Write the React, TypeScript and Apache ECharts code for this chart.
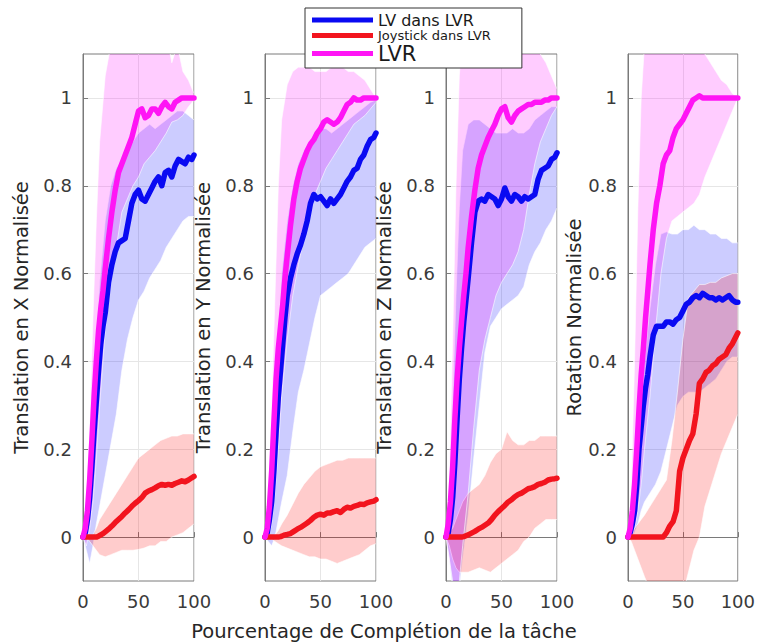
import React, { useEffect, useRef } from 'react';
import * as echarts from 'echarts';

// ---------- axes / labels ----------
const X_LINE = [0, 2, 4, 6, 8, 10, 12, 14, 16, 18, 20, 23, 26, 29, 32, 35, 38, 41, 44, 47, 50, 53, 56, 59, 62, 65, 68, 71, 74, 77, 80, 83, 86, 89, 92, 95, 98, 100];
const X_BAND = [0, 3, 6, 9, 12, 15, 20, 25, 30, 35, 40, 45, 50, 55, 60, 65, 70, 75, 80, 85, 90, 95, 100];
const Y_TICKS = [0, 0.2, 0.4, 0.6, 0.8, 1];
const X_TICK_INTERVAL = 50;
const SERIES_NAMES = ['LV dans LVR', 'Joystick dans LVR', 'LVR'];
const PANEL_TITLES = ['Translation en X Normalisée', 'Translation en Y Normalisée', 'Translation en Z Normalisée', 'Rotation Normalisée'];
const X_TITLE = 'Pourcentage de Complétion de la tâche';

// ---------- panel 1 : X ----------
const P1_LV = [0, 0.01, 0.04, 0.09, 0.16, 0.24, 0.31, 0.38, 0.44, 0.48, 0.51, 0.58, 0.62, 0.65, 0.67, 0.675, 0.68, 0.72, 0.76, 0.78, 0.79, 0.77, 0.765, 0.78, 0.795, 0.81, 0.82, 0.80, 0.83, 0.835, 0.82, 0.845, 0.86, 0.855, 0.85, 0.865, 0.86, 0.87];
const P1_JOY = [0, 0, 0, 0, 0, 0, 0, 0.002, 0.005, 0.008, 0.012, 0.018, 0.025, 0.033, 0.04, 0.047, 0.055, 0.062, 0.07, 0.077, 0.083, 0.09, 0.1, 0.105, 0.108, 0.112, 0.117, 0.12, 0.118, 0.12, 0.118, 0.122, 0.125, 0.128, 0.126, 0.13, 0.135, 0.138];
const P1_LVR = [0, 0.02, 0.06, 0.13, 0.22, 0.32, 0.40, 0.47, 0.52, 0.56, 0.61, 0.68, 0.74, 0.79, 0.83, 0.85, 0.87, 0.89, 0.91, 0.94, 0.97, 0.975, 0.955, 0.96, 0.975, 0.975, 0.965, 0.98, 0.99, 0.98, 0.975, 0.99, 0.995, 1.0, 1.0, 1.0, 1.0, 1.0];
const P1_LV_HI = [0, 0.05, 0.15, 0.3, 0.45, 0.58, 0.72, 0.8, 0.84, 0.86, 0.88, 0.9, 0.92, 0.93, 0.94, 0.93, 0.94, 0.95, 0.96, 0.97, 0.97, 0.96, 0.95];
const P1_LV_LO = [0, -0.03, -0.06, -0.02, 0.03, 0.07, 0.14, 0.21, 0.28, 0.38, 0.45, 0.5, 0.54, 0.56, 0.59, 0.61, 0.63, 0.66, 0.68, 0.7, 0.72, 0.73, 0.73];
const P1_JOY_HI = [0, 0, 0, 0.005, 0.02, 0.04, 0.06, 0.08, 0.1, 0.12, 0.14, 0.16, 0.18, 0.19, 0.2, 0.21, 0.22, 0.225, 0.23, 0.23, 0.235, 0.235, 0.235];
const P1_JOY_LO = [0, 0, -0.01, -0.02, -0.03, -0.04, -0.045, -0.04, -0.035, -0.03, -0.03, -0.03, -0.028, -0.025, -0.02, -0.02, -0.01, -0.01, 0, 0.005, 0.01, 0.02, 0.03];
const P1_LVR_HI = [0, 0.08, 0.25, 0.5, 0.72, 0.9, 1.05, 1.12, 1.15, 1.15, 1.15, 1.15, 1.15, 1.15, 1.15, 1.15, 1.15, 1.15, 1.08, 1.12, 1.06, 1.04, 1.01];
const P1_LVR_LO = [0, -0.02, 0.02, 0.08, 0.18, 0.3, 0.47, 0.58, 0.66, 0.74, 0.77, 0.8, 0.82, 0.85, 0.865, 0.88, 0.9, 0.92, 0.945, 0.95, 0.96, 0.98, 0.995];

// ---------- panel 2 : Y ----------
const P2_LV = [0, 0.01, 0.04, 0.08, 0.15, 0.24, 0.32, 0.38, 0.44, 0.5, 0.55, 0.59, 0.62, 0.645, 0.665, 0.69, 0.72, 0.76, 0.78, 0.77, 0.775, 0.765, 0.755, 0.77, 0.76, 0.77, 0.78, 0.795, 0.81, 0.82, 0.835, 0.84, 0.86, 0.87, 0.89, 0.905, 0.91, 0.92];
const P2_JOY = [0, 0, 0, 0, 0, 0, 0, 0.001, 0.003, 0.005, 0.006, 0.008, 0.013, 0.018, 0.022, 0.027, 0.032, 0.038, 0.045, 0.05, 0.052, 0.05, 0.055, 0.055, 0.058, 0.06, 0.056, 0.063, 0.068, 0.066, 0.07, 0.072, 0.075, 0.074, 0.078, 0.08, 0.082, 0.085];
const P2_LVR = [0, 0.02, 0.07, 0.15, 0.26, 0.36, 0.43, 0.48, 0.53, 0.59, 0.64, 0.71, 0.77, 0.81, 0.84, 0.86, 0.88, 0.895, 0.905, 0.92, 0.93, 0.945, 0.95, 0.945, 0.94, 0.945, 0.955, 0.97, 0.985, 0.99, 1.0, 0.995, 0.995, 1.0, 1.0, 1.0, 1.0, 1.0];
const P2_LV_HI = [0, 0.04, 0.15, 0.3, 0.45, 0.6, 0.72, 0.8, 0.85, 0.88, 0.9, 0.92, 0.93, 0.93, 0.92, 0.93, 0.94, 0.95, 0.96, 0.97, 0.98, 0.99, 0.995];
const P2_LV_LO = [0, -0.01, -0.02, 0, 0.04, 0.08, 0.14, 0.24, 0.33, 0.38, 0.44, 0.5, 0.55, 0.56, 0.57, 0.58, 0.59, 0.6, 0.62, 0.64, 0.66, 0.67, 0.68];
const P2_JOY_HI = [0, 0, 0, 0.005, 0.015, 0.03, 0.05, 0.075, 0.1, 0.12, 0.135, 0.15, 0.16, 0.165, 0.17, 0.175, 0.175, 0.18, 0.18, 0.18, 0.18, 0.18, 0.18];
const P2_JOY_LO = [0, 0, -0.005, -0.01, -0.015, -0.02, -0.025, -0.03, -0.035, -0.04, -0.045, -0.045, -0.05, -0.05, -0.055, -0.06, -0.055, -0.05, -0.045, -0.04, -0.03, -0.02, -0.015];
const P2_LVR_HI = [0, 0.08, 0.3, 0.55, 0.8, 0.95, 1.03, 1.06, 1.07, 1.07, 1.07, 1.06, 1.06, 1.06, 1.07, 1.07, 1.07, 1.06, 1.06, 1.05, 1.04, 1.02, 1.0];
const P2_LVR_LO = [0, 0, 0.03, 0.1, 0.2, 0.32, 0.45, 0.55, 0.62, 0.68, 0.73, 0.78, 0.81, 0.84, 0.86, 0.88, 0.9, 0.92, 0.94, 0.95, 0.96, 0.975, 0.99];

// ---------- panel 3 : Z ----------
const P3_LV = [0, 0.01, 0.04, 0.09, 0.17, 0.27, 0.36, 0.43, 0.49, 0.54, 0.59, 0.67, 0.74, 0.765, 0.77, 0.765, 0.78, 0.775, 0.77, 0.755, 0.77, 0.795, 0.775, 0.765, 0.78, 0.775, 0.765, 0.775, 0.77, 0.775, 0.78, 0.815, 0.835, 0.84, 0.845, 0.86, 0.865, 0.875];
const P3_JOY = [0, 0, 0, 0, 0, 0, 0, 0, 0.001, 0.003, 0.005, 0.009, 0.013, 0.018, 0.022, 0.027, 0.032, 0.04, 0.05, 0.058, 0.065, 0.072, 0.08, 0.085, 0.092, 0.097, 0.1, 0.105, 0.11, 0.112, 0.115, 0.12, 0.122, 0.125, 0.13, 0.132, 0.133, 0.134];
const P3_LVR = [0, 0.03, 0.08, 0.16, 0.27, 0.36, 0.43, 0.49, 0.55, 0.6, 0.66, 0.73, 0.79, 0.84, 0.87, 0.89, 0.91, 0.925, 0.94, 0.96, 0.975, 0.98, 0.955, 0.945, 0.96, 0.97, 0.975, 0.98, 0.985, 0.985, 0.99, 0.99, 0.99, 0.995, 0.995, 1.0, 1.0, 1.0];
const P3_LV_HI = [0, 0.1, 0.3, 0.55, 0.75, 0.88, 0.94, 0.95, 0.95, 0.94, 0.93, 0.92, 0.92, 0.92, 0.93, 0.92, 0.92, 0.93, 0.95, 0.96, 0.97, 0.98, 0.98];
const P3_LV_LO = [0, -0.05, -0.12, -0.15, -0.12, -0.05, 0.05, 0.18, 0.3, 0.42, 0.48, 0.5, 0.52, 0.53, 0.54, 0.55, 0.57, 0.62, 0.65, 0.67, 0.7, 0.72, 0.75];
const P3_JOY_HI = [0, 0.01, 0.02, 0.04, 0.06, 0.08, 0.1, 0.11, 0.12, 0.14, 0.17, 0.19, 0.2, 0.24, 0.22, 0.21, 0.21, 0.22, 0.22, 0.23, 0.23, 0.23, 0.23];
const P3_JOY_LO = [0, -0.02, -0.05, -0.07, -0.08, -0.08, -0.08, -0.075, -0.07, -0.075, -0.08, -0.07, -0.06, -0.05, -0.04, -0.03, -0.01, 0, 0.02, 0.03, 0.04, 0.04, 0.04];
const P3_LVR_HI = [0, 0.15, 0.45, 0.8, 1.05, 1.15, 1.15, 1.15, 1.15, 1.15, 1.15, 1.15, 1.15, 1.15, 1.15, 1.15, 1.15, 1.15, 1.12, 1.1, 1.08, 1.05, 1.02];
const P3_LVR_LO = [0, -0.05, -0.1, -0.12, -0.1, -0.02, 0.1, 0.25, 0.38, 0.45, 0.5, 0.55, 0.58, 0.6, 0.62, 0.65, 0.7, 0.78, 0.85, 0.9, 0.93, 0.96, 0.98];

// ---------- panel 4 : rotation ----------
const P4_LV = [0, 0.01, 0.03, 0.06, 0.12, 0.2, 0.25, 0.3, 0.34, 0.37, 0.41, 0.46, 0.48, 0.48, 0.48, 0.49, 0.49, 0.485, 0.495, 0.5, 0.515, 0.53, 0.535, 0.545, 0.55, 0.545, 0.555, 0.55, 0.545, 0.545, 0.54, 0.545, 0.54, 0.545, 0.55, 0.54, 0.535, 0.535];
const P4_JOY = [0, 0, 0, 0, 0, 0, 0, 0, 0, 0, 0, 0, 0, 0, 0, 0.01, 0.025, 0.035, 0.06, 0.15, 0.18, 0.2, 0.22, 0.235, 0.28, 0.35, 0.36, 0.375, 0.38, 0.39, 0.395, 0.405, 0.41, 0.415, 0.43, 0.44, 0.455, 0.465];
const P4_LVR = [0, 0.02, 0.06, 0.12, 0.2, 0.29, 0.37, 0.43, 0.5, 0.56, 0.62, 0.7, 0.76, 0.8, 0.85, 0.87, 0.88, 0.91, 0.93, 0.94, 0.95, 0.965, 0.98, 0.995, 1.0, 1.005, 1.0, 1.0, 1.0, 1.0, 1.0, 1.0, 1.0, 1.0, 1.0, 1.0, 1.0, 1.0];
const P4_LV_HI = [0, 0.03, 0.1, 0.2, 0.3, 0.4, 0.52, 0.62, 0.69, 0.695, 0.69, 0.69, 0.7, 0.7, 0.71, 0.7, 0.7, 0.69, 0.69, 0.68, 0.68, 0.67, 0.67];
const P4_LV_LO = [0, 0, 0.01, 0.03, 0.06, 0.08, 0.1, 0.12, 0.15, 0.2, 0.25, 0.3, 0.32, 0.33, 0.33, 0.33, 0.34, 0.35, 0.36, 0.38, 0.4, 0.41, 0.41];
const P4_JOY_HI = [0, 0.01, 0.02, 0.03, 0.04, 0.05, 0.07, 0.09, 0.11, 0.13, 0.22, 0.33, 0.45, 0.545, 0.56, 0.575, 0.575, 0.58, 0.58, 0.59, 0.595, 0.6, 0.6];
const P4_JOY_LO = [0, -0.01, -0.03, -0.05, -0.07, -0.09, -0.12, -0.15, -0.17, -0.18, -0.18, -0.16, -0.13, -0.08, -0.03, 0, 0.07, 0.11, 0.15, 0.19, 0.22, 0.25, 0.28];
const P4_LVR_HI = [0, 0.12, 0.4, 0.75, 1.0, 1.12, 1.15, 1.15, 1.15, 1.15, 1.15, 1.15, 1.15, 1.15, 1.14, 1.12, 1.1, 1.08, 1.06, 1.04, 1.03, 1.01, 1.0];
const P4_LVR_LO = [0, 0, 0.02, 0.06, 0.12, 0.2, 0.32, 0.47, 0.6, 0.68, 0.72, 0.73, 0.74, 0.75, 0.76, 0.78, 0.82, 0.85, 0.88, 0.91, 0.94, 0.97, 1.0];

// ---------- styling ----------
const LINE_COLORS = ['#0a0af2', '#f2141e', '#ff14f5'];
const BAND_COLORS = ['rgba(0,0,255,0.2)', 'rgba(255,0,0,0.2)', 'rgba(255,0,255,0.2)'];
const GRID_LEFTS = [83, 265, 446, 628];
const NAME_GAPS = [52, 52, 52, 42];
const FONT = 'DejaVu Sans';

const PANELS = [
  { lines: [P1_LV, P1_JOY, P1_LVR], bands: [[P1_LV_LO, P1_LV_HI], [P1_JOY_LO, P1_JOY_HI], [P1_LVR_LO, P1_LVR_HI]] },
  { lines: [P2_LV, P2_JOY, P2_LVR], bands: [[P2_LV_LO, P2_LV_HI], [P2_JOY_LO, P2_JOY_HI], [P2_LVR_LO, P2_LVR_HI]] },
  { lines: [P3_LV, P3_JOY, P3_LVR], bands: [[P3_LV_LO, P3_LV_HI], [P3_JOY_LO, P3_JOY_HI], [P3_LVR_LO, P3_LVR_HI]] },
  { lines: [P4_LV, P4_JOY, P4_LVR], bands: [[P4_LV_LO, P4_LV_HI], [P4_JOY_LO, P4_JOY_HI], [P4_LVR_LO, P4_LVR_HI]] },
];

function bandSeries(lo: number[], hi: number[], color: string, idx: number) {
  return {
    type: 'custom',
    xAxisIndex: idx,
    yAxisIndex: idx,
    clip: true,
    silent: true,
    z: 1,
    data: X_BAND.map((x, k) => [x, lo[k], hi[k]]),
    encode: { x: 0, y: [1, 2] },
    renderItem: (params: any, api: any) => {
      if (params.dataIndex !== 0) return null;
      const top = X_BAND.map((x, k) => api.coord([x, hi[k]]));
      const bot = X_BAND.map((x, k) => api.coord([x, lo[k]])).reverse();
      return {
        type: 'polygon',
        shape: { points: top.concat(bot) },
        style: { fill: color, stroke: 'rgba(255,255,255,0.85)', lineWidth: 0.7 },
      };
    },
  };
}

function buildOption() {
  const grid: any[] = [];
  const xAxis: any[] = [];
  const yAxis: any[] = [];
  const series: any[] = [];
  PANELS.forEach((p, i) => {
    grid.push({ left: GRID_LEFTS[i], top: 54, width: 111, height: 527, show: true, borderColor: '#7a7a7a', borderWidth: 1, backgroundColor: '#fff' });
    xAxis.push({
      type: 'value', gridIndex: i, min: 0, max: 100, interval: X_TICK_INTERVAL,
      axisLine: { show: true, lineStyle: { color: '#7a7a7a' } },
      axisTick: { show: true, inside: true, length: 5, lineStyle: { color: '#7a7a7a' } },
      axisLabel: { fontSize: 18, color: '#3a3a3a', margin: 11, fontFamily: FONT },
      splitLine: { show: true, lineStyle: { color: '#e6e6e6', width: 1 } },
    });
    yAxis.push({
      type: 'value', gridIndex: i, min: -0.1, max: 1.1,
      name: PANEL_TITLES[i], nameLocation: 'middle', nameGap: NAME_GAPS[i],
      nameTextStyle: { fontSize: 19.5, color: '#262626', fontFamily: FONT },
      axisLine: { show: true, lineStyle: { color: '#7a7a7a' } },
      axisTick: { show: true, inside: true, length: 5, customValues: Y_TICKS, lineStyle: { color: '#7a7a7a' } },
      axisLabel: { fontSize: 18, color: '#3a3a3a', margin: 11, fontFamily: FONT, customValues: Y_TICKS, formatter: (v: number) => String(v) },
      splitLine: { show: true, lineStyle: { color: '#e6e6e6', width: 1 } },
    });
    p.bands.forEach((b, j) => series.push(bandSeries(b[0], b[1], BAND_COLORS[j], i)));
    p.lines.forEach((arr, j) => series.push({
      type: 'line', name: SERIES_NAMES[j], xAxisIndex: i, yAxisIndex: i,
      data: X_LINE.map((x, k) => [x, arr[k]]),
      showSymbol: false, symbol: 'none', silent: true, clip: true, z: 3,
      lineStyle: { width: 5.5, color: LINE_COLORS[j], cap: 'round', join: 'round' },
      itemStyle: { color: LINE_COLORS[j] },
    }));
  });
  return {
    animation: false,
    backgroundColor: '#fff',
    textStyle: { fontFamily: FONT },
    grid, xAxis, yAxis, series,
    legend: {
      show: true, orient: 'vertical', left: 305, top: 8, z: 20,
      data: SERIES_NAMES, icon: 'rect', itemWidth: 61, itemHeight: 5, itemGap: 1,
      selectedMode: false,
      padding: [4, 31, 4, 7],
      backgroundColor: '#fff', borderColor: '#333', borderWidth: 1,
      formatter: (name: string) => name === 'LVR' ? `{c|${name}}` : name.startsWith('Joy') ? `{b|${name}}` : `{a|${name}}`,
      textStyle: {
        color: '#1a1a1a', fontFamily: FONT,
        rich: {
          a: { fontSize: 16, lineHeight: 20, color: '#1a1a1a', fontFamily: FONT },
          b: { fontSize: 13, lineHeight: 20, color: '#1a1a1a', fontFamily: FONT },
          c: { fontSize: 21, lineHeight: 22, color: '#1a1a1a', fontFamily: FONT },
        },
      },
    },
    graphic: [{
      type: 'text', x: 384, y: 631, z: 20,
      style: { text: X_TITLE, fontSize: 19.5, fontFamily: FONT, fill: '#262626', align: 'center', verticalAlign: 'middle', textAlign: 'center', textVerticalAlign: 'middle' },
    }],
  };
}

export default function App() {
  const ref = useRef<HTMLDivElement>(null);
  useEffect(() => {
    if (!ref.current) return;
    const chart = echarts.init(ref.current, undefined, { renderer: 'svg' });
    chart.setOption(buildOption() as any);
    return () => chart.dispose();
  }, []);
  return <div ref={ref} style={{ position: 'absolute', left: 0, top: 0, width: 758, height: 644 }} />;
}
